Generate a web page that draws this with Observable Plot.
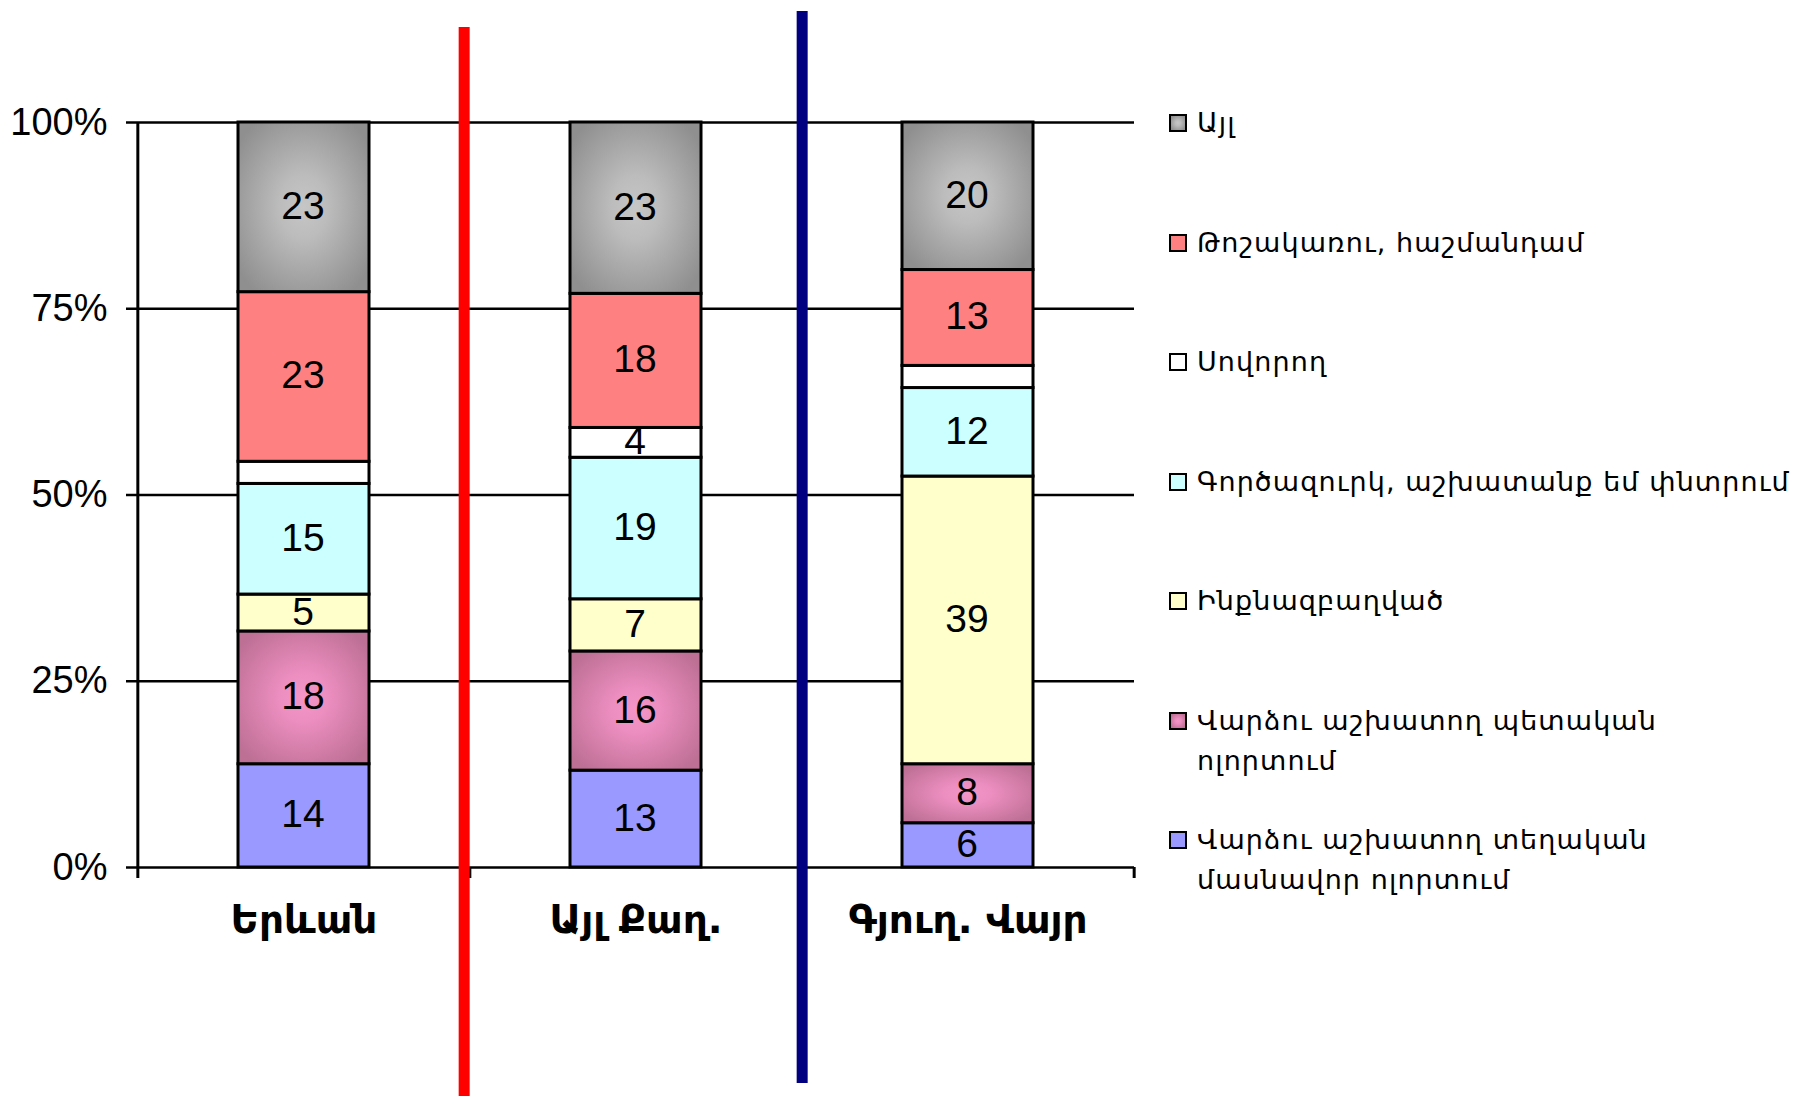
<!DOCTYPE html>
<html>
<head>
<meta charset="utf-8">
<script src="https://cdn.jsdelivr.net/npm/d3@7"></script>
<script src="https://cdn.jsdelivr.net/npm/@observablehq/plot@0.6"></script>
<style>
  body { margin: 0; background: #fff; }
  #wrap { position: relative; width: 1806px; height: 1096px; overflow: hidden; background: #fff; }
  #chart { position: absolute; left: 0; top: 0; }
  #legend { position: absolute; left: 1169px; top: 0; }
  .item { position: absolute; left: 0; display: flex; align-items: flex-start; }
  .sw { width: 14px; height: 14px; border: 2.5px solid #000; margin-top: 0; flex: none; }
  .lbl { margin-left: 10px; font-family: "DejaVu Sans", sans-serif; font-size: 27px; letter-spacing: 1.1px; line-height: 40px; color: #000; white-space: nowrap; }
</style>
</head>
<body>
<svg width="0" height="0" style="position:absolute">
  <defs>
    <radialGradient id="gGray" cx="50%" cy="50%" r="62%">
      <stop offset="0" stop-color="#c6c6c6"/>
      <stop offset="0.3" stop-color="#bcbcbc"/>
      <stop offset="1" stop-color="#8f8f8f"/>
    </radialGradient>
    <radialGradient id="gPink" cx="50%" cy="50%" r="62%">
      <stop offset="0" stop-color="#f595c8"/>
      <stop offset="0.3" stop-color="#ec8ec0"/>
      <stop offset="1" stop-color="#bd6f94"/>
    </radialGradient>
  </defs>
</svg>
<div id="wrap">
  <div id="chart"></div>
  <div id="legend"></div>
</div>
<script>
// ---- data ----
const categories = ["Երևան", "Այլ Քաղ.", "Գյուղ. Վայր"];
// series listed bottom-to-top of the stack
const seriesNames = [
  "Վարձու աշխատող տեղական մասնավոր ոլորտում",
  "Վարձու աշխատող պետական ոլորտում",
  "Ինքնազբաղված",
  "Գործազուրկ, աշխատանք եմ փնտրում",
  "Սովորող",
  "Թոշակառու, հաշմանդամ",
  "Այլ"
];
const privateHired = [14, 13, 6];
const publicHired  = [18, 16, 8];
const selfEmployed = [5, 7, 39];
const unemployed   = [15, 19, 12];
const students     = [3, 4, 3];
const pensioners   = [23, 18, 13];
const other        = [23, 23, 20];
const seriesValues = [privateHired, publicHired, selfEmployed, unemployed, students, pensioners, other];
const yTicks = [0, 0.25, 0.5, 0.75, 1];
const yTickLabels = ["0%", "25%", "50%", "75%", "100%"];
// legend lines (top-to-bottom order of the legend)
const legendLines = [
  ["Այլ"],
  ["Թոշակառու, հաշմանդամ"],
  ["Սովորող"],
  ["Գործազուրկ, աշխատանք եմ փնտրում"],
  ["Ինքնազբաղված"],
  ["Վարձու աշխատող պետական", "ոլորտում"],
  ["Վարձու աշխատող տեղական", "մասնավոր ոլորտում"]
];
const fills = ["#9999ff", "url(#gPink)", "#ffffcc", "#ccffff", "#ffffff", "#ff8080", "url(#gGray)"];

// ---- layout ----
const W = 1806, H = 1096;
const mL = 137, mR = W - 1134, mT = 122, mB = H - 867;
const step = (W - mL - mR) / categories.length;
const ySpan = H - mT - mB;

const data = [];
seriesNames.forEach((s, i) => categories.forEach((c, j) => data.push({category: c, series: s, value: seriesValues[i][j]})));

const chart = Plot.plot({
  width: W, height: H,
  marginLeft: mL, marginRight: mR, marginTop: mT, marginBottom: mB,
  style: {fontFamily: "'Liberation Sans', Arial, sans-serif", background: "transparent", overflow: "visible", color: "#000"},
  x: {type: "band", domain: categories, paddingInner: 0.605, paddingOuter: 0.3025, align: 0.5, label: null},
  y: {domain: [0, 1], label: null},
  color: {type: "ordinal", domain: seriesNames, range: fills},
  marks: [
    Plot.ruleY(yTicks, {stroke: "#000", strokeWidth: 2.5}),
    Plot.barY(data, Plot.stackY({offset: "normalize"}, {x: "category", y: "value", fill: "series", stroke: "#000", strokeWidth: 3})),
    Plot.text(data, Plot.stackY({offset: "normalize"}, {x: "category", y: "value", z: "series",
      text: d => d.value > 3 ? String(d.value) : "", fontSize: 39, fill: "#000", dx: -1, dy: -1})),
    Plot.axisY(yTicks, {tickFormat: (d) => yTickLabels[yTicks.indexOf(d)], tickSize: 11, tickPadding: 19,
      fontSize: 38, strokeWidth: 2.5, label: null}),
    Plot.axisX({tickSize: 0, tickPadding: 38, fontSize: 39, fontFamily: "'DejaVu Sans', sans-serif",
      fontWeight: "bold", label: null}),
    // y axis line and category boundary ticks
    Plot.ruleX([categories[0]], {x: d => d, dx: -step / 2, y1: -11 / ySpan, y2: 1, stroke: "#000", strokeWidth: 3}),
    Plot.ruleX(categories.slice(1), {x: d => d, dx: -step / 2, y1: -11 / ySpan, y2: 0, stroke: "#000", strokeWidth: 3}),
    Plot.ruleX([categories[categories.length - 1]], {x: d => d, dx: step / 2, y1: -11 / ySpan, y2: 0, stroke: "#000", strokeWidth: 3}),
    // separators
    Plot.ruleX([categories[0]], {x: d => d, dx: step / 2 - 6, y1: -(H - 867) / ySpan, y2: (867 - 27) / ySpan, stroke: "#ff0000", strokeWidth: 11}),
    Plot.ruleX([categories[1]], {x: d => d, dx: step / 2, y1: -(1083 - 867) / ySpan, y2: (867 - 11) / ySpan, stroke: "#000080", strokeWidth: 11})
  ]
});
document.getElementById("chart").appendChild(chart);

// ---- legend ----
const legendFills = fills.slice().reverse();
const legend = document.getElementById("legend");
legendLines.forEach((lines, i) => {
  const item = document.createElement("div");
  item.className = "item";
  item.style.top = (123 - 20 + i * 119.5) + "px";
  const sw = document.createElement("div");
  sw.className = "sw";
  sw.style.marginTop = "11px";
  sw.innerHTML = `<svg width="14" height="14" style="display:block"><rect width="14" height="14" fill="${legendFills[i]}"/></svg>`;
  const lbl = document.createElement("div");
  lbl.className = "lbl";
  lbl.innerHTML = lines.join("<br>");
  item.appendChild(sw);
  item.appendChild(lbl);
  legend.appendChild(item);
});
</script>
</body>
</html>
